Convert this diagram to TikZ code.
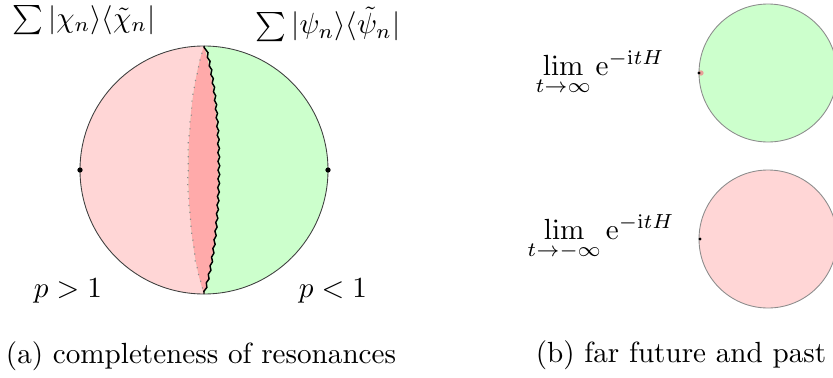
\documentclass[tikz,border=0pt]{standalone}
\usepackage{amsmath,amssymb}
\usetikzlibrary{decorations.pathmorphing}
\definecolor{resPink}{HTML}{FFD6D6}
\definecolor{resRed}{HTML}{FFAAAA}
\definecolor{resGreen}{HTML}{CCFFCC}
\definecolor{dotRed}{HTML}{E8A098}
\definecolor{dotGreen}{HTML}{44CC44}

\begin{document}
\begin{tikzpicture}[x=0.343pt, y=0.343pt,
    rim/.style={draw=black!75, line width=0.3pt},
    farrim/.style={draw=black!45, line width=0.3pt},
    endpt/.style={circle, fill=black, inner sep=0pt, minimum size=1.8pt},
    tinypt/.style={circle, fill=black, inner sep=0pt, minimum size=1.1pt},
    sumlabel/.style={inner sep=0pt}]
        \useasboundingbox (0,0) rectangle (833,377);
        \clip (0,0) rectangle (833,377);
        % (a) the lens between the two expansions
        \coordinate (ctr) at (204,207);
        \coordinate (top) at (204,331);
        \coordinate (bot) at (204,83);
        \fill[resGreen] (ctr) circle (124);
        \fill[resPink] (top) arc (90:270:124) .. controls (183,145) and (183,269) .. (top) -- cycle;
        \fill[resRed] (top) .. controls (183,269) and (183,145) .. (bot) .. controls (223,145) and (223,269) .. (top) -- cycle;
        \draw[black!45, dotted, line width=0.4pt, decorate, decoration={random steps, segment length=2pt, amplitude=0.25pt}] (top) .. controls (183,269) and (183,145) .. (bot);
        \draw[line width=0.5pt, decorate, decoration={snake, segment length=3pt, amplitude=0.3pt}] (bot) .. controls (223,145) and (223,269) .. (top);
        \draw[rim] (ctr) circle (124);
        \node[endpt] (lpt) at (80,207) {};
        \node[endpt] (rpt) at (328,207) {};
        \node[sumlabel] (chisum) at (84,357) {$\sum|\chi_n\rangle\langle\tilde{\chi}_n|$};
        \node[sumlabel] (psisum) at (328,353) {$\sum|\psi_n\rangle\langle\tilde{\psi}_n|$};
        \node[anchor=base] (pgt) at (68,80) {$p>1$};
        \node[anchor=base] (plt) at (333,80) {$p<1$};
        \node[anchor=base] (capa) at (201,14) {(a) completeness of resonances};
        % (b) the two limits
        \fill[resGreen, farrim] (768,304) circle (69);
        \fill[resPink, farrim] (768,138) circle (69);
        \node[circle, fill=dotRed, inner sep=0pt, minimum size=1.8pt] (futred) at (701,304) {};
        \node[tinypt] (futblk) at (699,304) {};
        \node[tinypt] (pastblk) at (700,138) {};
        \node[circle, fill=dotGreen, inner sep=0pt, minimum size=1.8pt] (pastgrn) at (836,138) {};
        \node[anchor=base] (limfut) at (600,302) {$\lim\limits_{t\to\infty}\mathrm{e}^{-\mathrm{i}tH}$};
        \node[anchor=base] (limpast) at (601,138) {$\lim\limits_{t\to-\infty}\mathrm{e}^{-\mathrm{i}tH}$};
        \node[anchor=base] (capb) at (681,15) {(b) far future and past};
      \end{tikzpicture}
\end{document}
